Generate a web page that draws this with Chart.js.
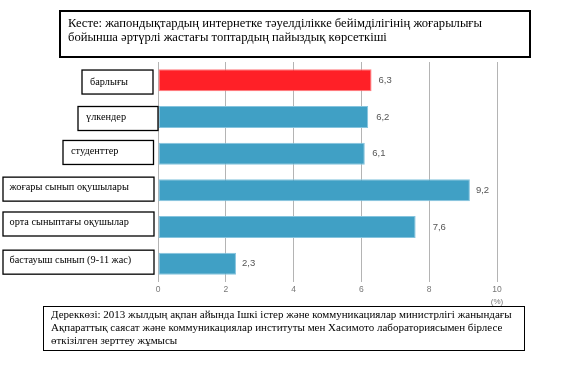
<!DOCTYPE html>
<html>
<head>
<meta charset="utf-8">
<script src="https://cdn.jsdelivr.net/npm/chart.js@4"></script>
<style>
  html, body { margin: 0; padding: 0; background: #fff; }
  #wrap { position: relative; width: 586px; height: 369px; overflow: hidden; }
  #chart { position: absolute; left: 0; top: 0; }
  .box {
    position: absolute; box-sizing: border-box; border: 1.5px solid #000;
    font-family: "Liberation Serif", "Times New Roman", serif; color: #000;
    white-space: nowrap;
  }
  #title { left: 59px; top: 10px; width: 472px; height: 48px; border-width: 2px;
    font-size: 12.6px; line-height: 13.5px; padding: 5px 0 0 7px; }
  #source { left: 43px; top: 306px; width: 482px; height: 45px;
    font-size: 11px; line-height: 13px; padding: 1px 0 0 7px; }
</style>
</head>
<body>
<div id="wrap">
  <canvas id="chart" width="586" height="369"></canvas>
  <div id="title" class="box">Кесте: жапондықтардың интернетке тәуелділікке бейімділігінің жоғарылығы<br>бойынша әртүрлі жастағы топтардың пайыздық көрсеткіші</div>
  <div id="source" class="box">Дереккөзі: 2013 жылдың ақпан айында Ішкі істер және коммуникациялар министрлігі жанындағы<br>Ақпараттық саясат және коммуникациялар институты мен Хасимото лабораториясымен бірлесе<br>өткізілген зерттеу жұмысы</div>
</div>
<script>
// data
const categories = [
    'барлығы',
    'үлкендер',
    'студенттер',
    'жоғары сынып оқушылары',
    'орта сыныптағы оқушылар',
    'бастауыш сынып (9-11 жас)'
];
const values = [6.3, 6.2, 6.1, 9.2, 7.6, 2.3];
const xMin = 0;
const xMax = 10;
const xStep = 2;
const unitLabel = '(%)';

// label box layout: [left, right, dy from bar centre, text left, text dy]
const boxLayout = [
    [82, 153, 1.7, 90, 0],
    [78, 158, 1.5, 86, -0.8],
    [63, 153.5, -1.2, 71, -1.6],
    [3, 154, -1.2, 9.5, -2],
    [3, 154, -3, 9.5, -1.3],
    [3, 154, -1.5, 9.5, -2]
];
const valueOffsets = [7, 8, 7.5, 6, 17, 6];

const RED = '#ff2027';
const BLUE = '#40a0c5';

const labelsPlugin = {
    id: 'labelsPlugin',
    afterDraw(chart) {
        const ctx = chart.ctx;
        const meta = chart.getDatasetMeta(0);
        const xs = chart.scales.x;
        ctx.save();
        // category boxes on the left
        meta.data.forEach((bar, i) => {
            const [l, r, dy, tx, tdy] = boxLayout[i];
            const cy = bar.y + dy;
            const h = 24;
            ctx.strokeStyle = '#000';
            ctx.lineWidth = 1.3;
            ctx.strokeRect(l, cy - h / 2, r - l, h);
            ctx.fillStyle = '#000';
            ctx.font = '10.3px "Liberation Serif", "Times New Roman", serif';
            ctx.textBaseline = 'middle';
            ctx.textAlign = 'left';
            ctx.fillText(categories[i], tx, cy + tdy);
        });
        // value labels
        ctx.font = '9.5px "Liberation Sans", Arial, sans-serif';
        ctx.fillStyle = '#555';
        meta.data.forEach((bar, i) => {
            ctx.fillText(values[i].toFixed(1).replace('.', ','), bar.x + valueOffsets[i], bar.y);
        });
        // unit under the last tick
        ctx.font = '8px "Liberation Sans", Arial, sans-serif';
        ctx.fillStyle = '#777';
        ctx.textAlign = 'center';
        ctx.fillText(unitLabel, xs.getPixelForValue(xMax), chart.chartArea.bottom + 20);
        ctx.restore();
    }
};

new Chart(document.getElementById('chart'), {
    type: 'bar',
    data: {
        labels: categories,
        datasets: [{
            data: values,
            backgroundColor: values.map((v, i) => i === 0 ? RED : BLUE),
            borderColor: values.map((v, i) => i === 0 ? '#ff7a7e' : '#86c4de'),
            borderWidth: 1,
            borderSkipped: false,
            barPercentage: 0.6,
            categoryPercentage: 1
        }]
    },
    options: {
        indexAxis: 'y',
        responsive: false,
        animation: false,
        layout: { padding: { left: 158, right: 89, top: 62, bottom: 67 } },
        plugins: {
            legend: { display: false },
            tooltip: { enabled: false }
        },
        scales: {
            x: {
                min: xMin,
                max: xMax,
                ticks: {
                    stepSize: xStep,
                    color: '#777',
                    padding: 3,
                    font: { family: '"Liberation Sans", Arial, sans-serif', size: 8.5 }
                },
                grid: { color: '#b4b4b4', lineWidth: 1, drawTicks: false },
                border: { display: false },
                afterFit(scale) { scale.height = 20; }
            },
            y: { display: false }
        }
    },
    plugins: [labelsPlugin]
});
</script>
</body>
</html>
